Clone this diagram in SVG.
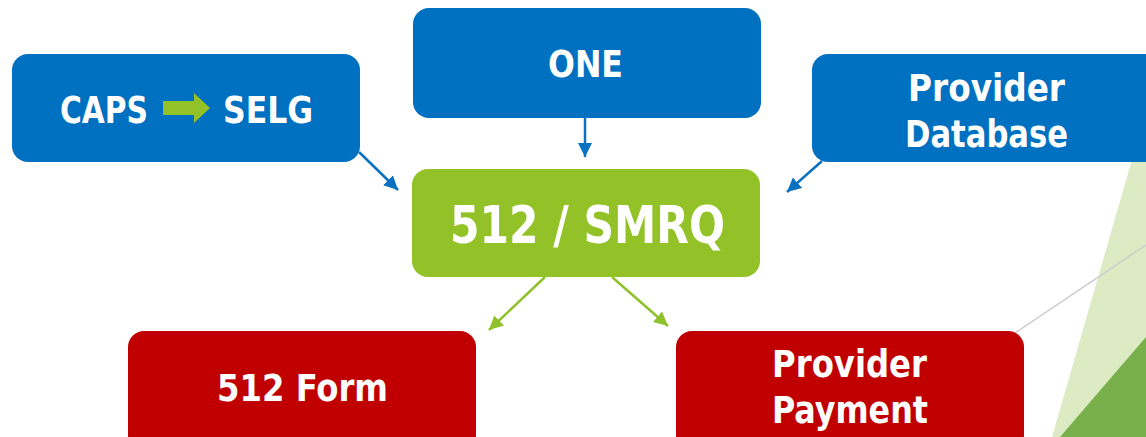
<svg xmlns="http://www.w3.org/2000/svg" width="1146" height="437" viewBox="0 0 1146 437">
  <style>
    .blue { fill: #0070C0; }
    .green { fill: #92C227; }
    .red { fill: #C00000; }
    .lbl { font-family: "DejaVu Sans Condensed", "DejaVu Sans", sans-serif; font-weight: bold; fill: #FFFFFF; font-size: 37px; }
    .big { font-size: 52px; }
    .cb { stroke: #0A70C0; stroke-width: 2.5; fill: none; }
    .cg { stroke: #8EC12A; stroke-width: 2.5; fill: none; }
  </style>
  <defs>
    <marker id="ab" markerUnits="userSpaceOnUse" markerWidth="16" markerHeight="14" refX="14" refY="7" orient="auto">
      <path d="M0,0 L14,7 L0,14 Z" fill="#0A70C0"/>
    </marker>
    <marker id="ag" markerUnits="userSpaceOnUse" markerWidth="16" markerHeight="14" refX="14" refY="7" orient="auto">
      <path d="M0,0 L14,7 L0,14 Z" fill="#8EC12A"/>
    </marker>
  </defs>
  <rect width="1146" height="437" fill="#FFFFFF"/>
  <g id="background">
    <polygon points="1052,437 1146,111 1146,437" fill="#DDEBC4"/>
    <polygon points="1060,437 1146,337 1146,437" fill="#78B14B"/>
    <line x1="1015" y1="333" x2="1146" y2="245" stroke="#CCCCCC" stroke-width="1.5"/>
  </g>
  <g id="connectors">
    <line class="cb" x1="359" y1="152" x2="398" y2="190" marker-end="url(#ab)"/>
    <line class="cb" x1="585" y1="117" x2="585" y2="157" marker-end="url(#ab)"/>
    <line class="cb" x1="822" y1="161" x2="787" y2="192" marker-end="url(#ab)"/>
    <line class="cg" x1="545" y1="277" x2="489" y2="330" marker-end="url(#ag)"/>
    <line class="cg" x1="612" y1="277" x2="668" y2="326" marker-end="url(#ag)"/>
  </g>
  <g id="caps-selg">
    <rect class="blue" x="12" y="54" width="348" height="108" rx="16"/>
    <text class="lbl" x="60" y="123" textLength="88" lengthAdjust="spacingAndGlyphs">CAPS</text>
    <polygon points="163,101 194,101 194,93 210,108 194,123 194,115 163,115" fill="#92C227"/>
    <text class="lbl" x="223" y="123" textLength="90" lengthAdjust="spacingAndGlyphs">SELG</text>
  </g>
  <g id="one">
    <rect class="blue" x="413" y="8" width="348" height="110" rx="16"/>
    <text class="lbl" x="548" y="77" textLength="75" lengthAdjust="spacingAndGlyphs">ONE</text>
  </g>
  <g id="provider-database">
    <rect class="blue" x="812" y="54" width="350" height="108" rx="16"/>
    <text class="lbl" x="908" y="101" textLength="157" lengthAdjust="spacingAndGlyphs">Provider</text>
    <text class="lbl" x="905" y="147" textLength="163" lengthAdjust="spacingAndGlyphs">Database</text>
  </g>
  <g id="smrq">
    <rect class="green" x="412" y="169" width="348" height="108" rx="16"/>
    <text class="lbl big" x="450" y="243" textLength="275" lengthAdjust="spacingAndGlyphs">512 / SMRQ</text>
  </g>
  <g id="form512">
    <rect class="red" x="128" y="331" width="348" height="120" rx="16"/>
    <text class="lbl" x="217" y="401" textLength="171" lengthAdjust="spacingAndGlyphs">512 Form</text>
  </g>
  <g id="provider-payment">
    <rect class="red" x="676" y="331" width="348" height="120" rx="16"/>
    <text class="lbl" x="772" y="377" textLength="155" lengthAdjust="spacingAndGlyphs">Provider</text>
    <text class="lbl" x="772" y="423" textLength="156" lengthAdjust="spacingAndGlyphs">Payment</text>
  </g>
</svg>
